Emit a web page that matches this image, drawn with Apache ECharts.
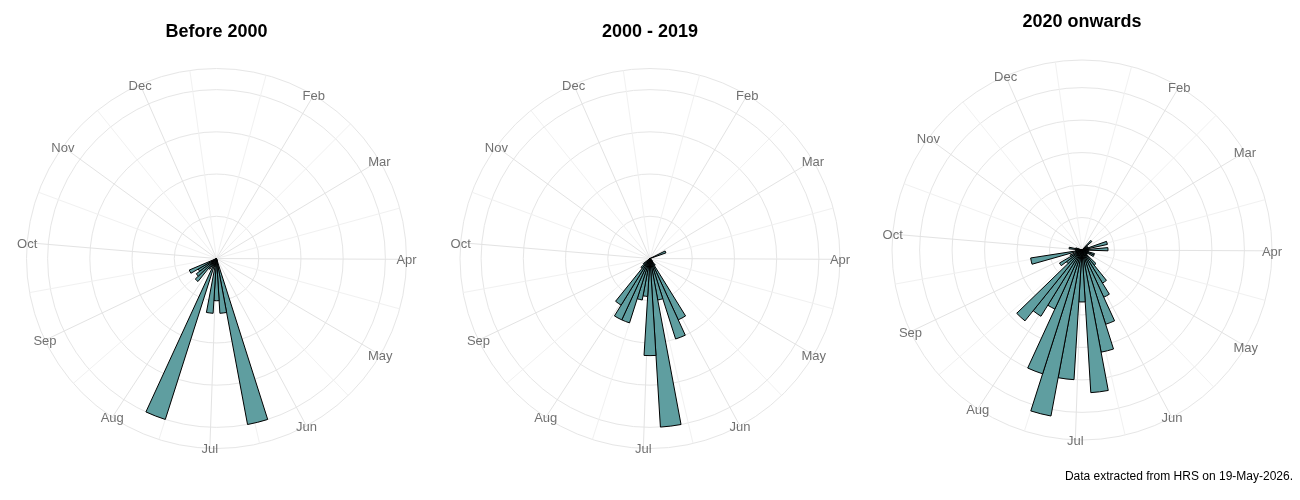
<!DOCTYPE html>
<html>
<head>
<meta charset="utf-8">
<title>Events by week of year</title>
<script src="https://cdn.jsdelivr.net/npm/echarts@6/dist/echarts.min.js"></script>
<style>
  html, body { margin: 0; padding: 0; background: #fff; }
  #chart { width: 1300px; height: 500px; }
</style>
</head>
<body>
<div id="chart"></div>
<script>
// 51 weekly bins, the first one starting at ~1 Jan (days counted from 1 Jan = 0)
const WEEKS = 51
const DAY_MIN = 0.5
const DAY_MAX = 357.5

const monthNames = ['Feb', 'Mar', 'Apr', 'May', 'Jun', 'Jul', 'Aug', 'Sep', 'Oct', 'Nov', 'Dec']
const monthStarts = [31, 59, 90, 120, 151, 181, 212, 243, 273, 304, 334]

const panelTitles = ['Before 2000', '2000 - 2019', '2020 onwards']

// counts per week, week 0 .. week 50
const before2000 = [
  0, 0, 0, 0, 0, 0, 0, 0, 0, 0,
  0, 0, 0, 0, 0, 0, 0, 0, 0, 0,
  0, 0, 0, 40, 13, 10, 13, 2, 40, 2,
  3, 7, 6, 5, 7, 0, 0, 0, 0, 0,
  0, 0, 0, 0, 0, 0, 0, 0, 0, 0,
  0
]
const from2000to2019 = [
  0, 0, 0, 0, 0, 0, 0, 0, 0, 4,
  0, 0, 0, 0, 0, 0, 0, 0, 0, 1,
  2, 16, 20, 10, 40, 23, 9, 10, 16, 16,
  13, 3, 2, 0, 0, 0, 0, 0, 0, 0,
  0, 0, 0, 0, 0, 0, 0, 0, 0, 0,
  0
]
const since2020 = [
  0, 0, 0, 0, 0, 0, 2, 1, 0, 1,
  4, 1, 4, 1, 1, 2, 2, 1, 1, 3,
  6, 8, 12, 16, 22, 8, 20, 26, 20, 10,
  12, 14, 3, 4, 2, 1, 8, 1, 1, 2,
  1, 0, 0, 0, 0, 0, 0, 0, 0, 0,
  0
]
const panelData = [before2000, from2000to2019, since2020]
const ringStep = [10, 10, 5]

const FONT = '"Liberation Sans", Arial, Helvetica, sans-serif'
const centers = [[216.5, 258.5], [650, 258.5], [1082, 250]]
const titleY = [32.5, 32.5, 22.5]
const RADIUS = 190

// grid spokes: minor (mid-month) and major (1st of month), alternating
const gridDays = []
const edges = [0].concat(monthStarts, [365])
for (let i = 0; i < edges.length - 1; i++) {
  gridDays.push((edges[i] + edges[i + 1]) / 2)
  if (i < monthStarts.length) gridDays.push(monthStarts[i])
}

const chart = echarts.init(document.getElementById('chart'))

const polar = []
const angleAxis = []
const radiusAxis = []
const series = []
const graphic = []

panelData.forEach((values, i) => {
  const dataMax = Math.max.apply(null, values)
  // ggplot puts the data max at 0.4 and the outer circle at 0.45
  const rOuter = dataMax * 1.125

  polar.push({ center: centers[i], radius: RADIUS })
  angleAxis.push({
    polarIndex: i,
    type: 'value',
    min: DAY_MIN,
    max: DAY_MAX,
    startAngle: 90,
    clockwise: true,
    axisLine: { show: false },
    axisTick: { show: false, customValues: gridDays },
    axisLabel: { show: false },
    splitLine: {
      show: true,
      lineStyle: { color: ['#f1f1f1', '#e3e3e3'], width: 1 }
    }
  })
  radiusAxis.push({
    polarIndex: i,
    type: 'value',
    min: 0,
    max: rOuter,
    interval: ringStep[i],
    axisLine: { show: false },
    axisTick: { show: false },
    axisLabel: { show: false },
    splitLine: { show: true, lineStyle: { color: '#e6e6e6', width: 1 } }
  })

  series.push({
    type: 'bar',
    coordinateSystem: 'polar',
    polarIndex: i,
    barWidth: '100%',
    itemStyle: { color: '#5F9EA0', borderColor: '#000', borderWidth: 1 },
    data: values.map((v, k) => [v, DAY_MIN + 3.5 + 7 * k])
  })

  // month labels sit centred on the outer circle
  series.push({
    type: 'scatter',
    coordinateSystem: 'polar',
    polarIndex: i,
    symbolSize: 1,
    itemStyle: { color: 'transparent' },
    silent: true,
    clip: false,
    z: 5,
    label: {
      show: true,
      position: 'inside',
      offset: [0, 1.5],
      formatter: '{b}',
      color: '#4d4d4d',
      fontSize: 13,
      fontFamily: FONT
    },
    data: monthNames.map((m, j) => ({ name: m, value: [rOuter, monthStarts[j]] }))
  })

  graphic.push({
    type: 'text',
    x: centers[i][0],
    y: titleY[i],
    style: {
      text: panelTitles[i],
      fontSize: 18,
      fontWeight: 'bold',
      fontFamily: FONT,
      fill: '#000',
      textAlign: 'center',
      textVerticalAlign: 'middle'
    }
  })
})

graphic.push({
  type: 'text',
  x: 1293,
  y: 476.5,
  style: {
    text: 'Data extracted from HRS on 19-May-2026.',
    fontSize: 12,
    fontFamily: FONT,
    fill: '#000',
    textAlign: 'right',
    textVerticalAlign: 'middle'
  }
})

chart.setOption({
  animation: false,
  backgroundColor: '#fff',
  polar: polar,
  angleAxis: angleAxis,
  radiusAxis: radiusAxis,
  series: series,
  graphic: graphic
})
</script>
</body>
</html>
